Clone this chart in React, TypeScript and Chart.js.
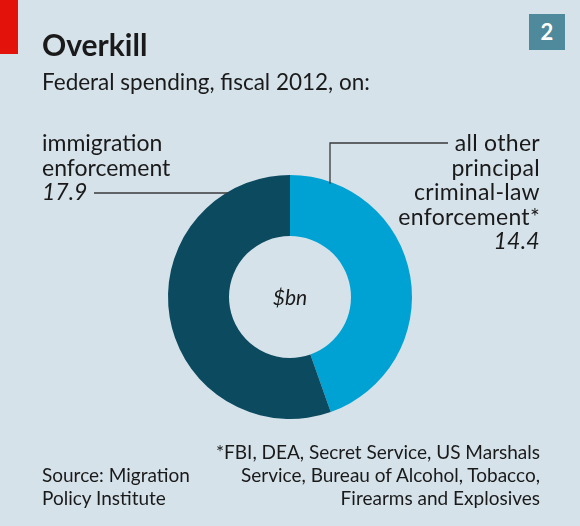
import React, { useEffect, useRef } from "react";
import { Chart, registerables } from "chart.js";

Chart.register(...registerables);

const categories = ["all other principal criminal-law enforcement*", "immigration enforcement"];
const values = [14.4, 17.9];
const sliceColors = ["#00a2d3", "#0c4a5f"];

const FONT = "Lato, 'Noto Sans', sans-serif";
const BG = "#d5e2ea";

const leaderPlugin = {
  id: "leaders",
  afterDatasetsDraw(chart: any) {
    const meta = chart.getDatasetMeta(0);
    const arc = meta.data[0];
    if (!arc) return;
    const { x: cx, y: cy, outerRadius: r } = arc.getProps(["x", "y", "outerRadius"], true);
    const ctx = chart.ctx;
    ctx.save();
    ctx.strokeStyle = "#3a3a3a";
    ctx.lineWidth = 1.3;
    const ly = 193;
    const lx = cx - Math.sqrt(r * r - (ly - cy) * (ly - cy));
    ctx.beginPath();
    ctx.moveTo(94, ly);
    ctx.lineTo(lx + 2, ly);
    ctx.stroke();
    const rx = 330;
    const ry = cy - Math.sqrt(r * r - (rx - cx) * (rx - cx));
    ctx.beginPath();
    ctx.moveTo(448, 143);
    ctx.lineTo(rx, 143);
    ctx.lineTo(rx, ry + 2);
    ctx.stroke();
    ctx.restore();
  },
};

export default function App() {
  const ref = useRef<HTMLCanvasElement>(null);
  useEffect(() => {
    if (!ref.current) return;
    const chart = new Chart(ref.current, {
      type: "doughnut",
      data: {
        labels: categories,
        datasets: [
          {
            data: values,
            backgroundColor: sliceColors,
            borderWidth: 0,
          },
        ],
      },
      options: {
        animation: false,
        responsive: false,
        cutout: "50%",
        rotation: 0,
        layout: { padding: { left: 168, right: 168, top: 175, bottom: 107 } },
        plugins: { legend: { display: false }, tooltip: { enabled: false } },
      },
      plugins: [leaderPlugin],
    });
    return () => chart.destroy();
  }, []);

  const txt = (extra: any) => ({
    position: "absolute" as const,
    fontFamily: FONT,
    color: "#1a1a1a",
    whiteSpace: "nowrap" as const,
    ...extra,
  });

  return (
    <div style={{ position: "absolute", left: 0, top: 0, width: 580, height: 526, background: BG, overflow: "hidden" }}>
      <div style={{ position: "absolute", left: 0, top: 0, width: 18, height: 54, background: "#e3120b" }} />
      <div style={{ position: "absolute", left: 529, top: 14, width: 36, height: 36, background: "#4f8a9c", color: "#fff", fontFamily: FONT, fontWeight: 700, fontSize: 22, lineHeight: "36px", textAlign: "center" }}>2</div>
      <canvas ref={ref} width={580} height={526} style={{ position: "absolute", left: 0, top: 0 }} />
      <div style={txt({ left: 42, top: 24, fontSize: 30, fontWeight: 700, lineHeight: "40px" })}>Overkill</div>
      <div style={txt({ left: 42, top: 68, fontSize: 22.5, lineHeight: "27px" })}>Federal spending, fiscal 2012, on:</div>
      <div style={txt({ left: 42, top: 130, fontSize: 23, lineHeight: "24.5px" })}>
        immigration<br />enforcement<br /><i>17.9</i>
      </div>
      <div style={txt({ right: 40, top: 130, fontSize: 23, lineHeight: "24.5px", textAlign: "right", letterSpacing: "0.3px" })}>
        all other<br />principal<br />criminal-law<br />enforcement*<br /><i>14.4</i>
      </div>
      <div style={txt({ left: 240, width: 100, top: 285, fontSize: 21, lineHeight: "24px", textAlign: "center", fontStyle: "italic" })}>$bn</div>
      <div style={txt({ left: 42, top: 463, fontSize: 19, lineHeight: "23px" })}>
        Source: Migration<br />Policy Institute
      </div>
      <div style={txt({ right: 40, top: 440, fontSize: 19, lineHeight: "23px", textAlign: "right" })}>
        *FBI, DEA, Secret Service, US Marshals<br />Service, Bureau of Alcohol, Tobacco,<br />Firearms and Explosives
      </div>
    </div>
  );
}
